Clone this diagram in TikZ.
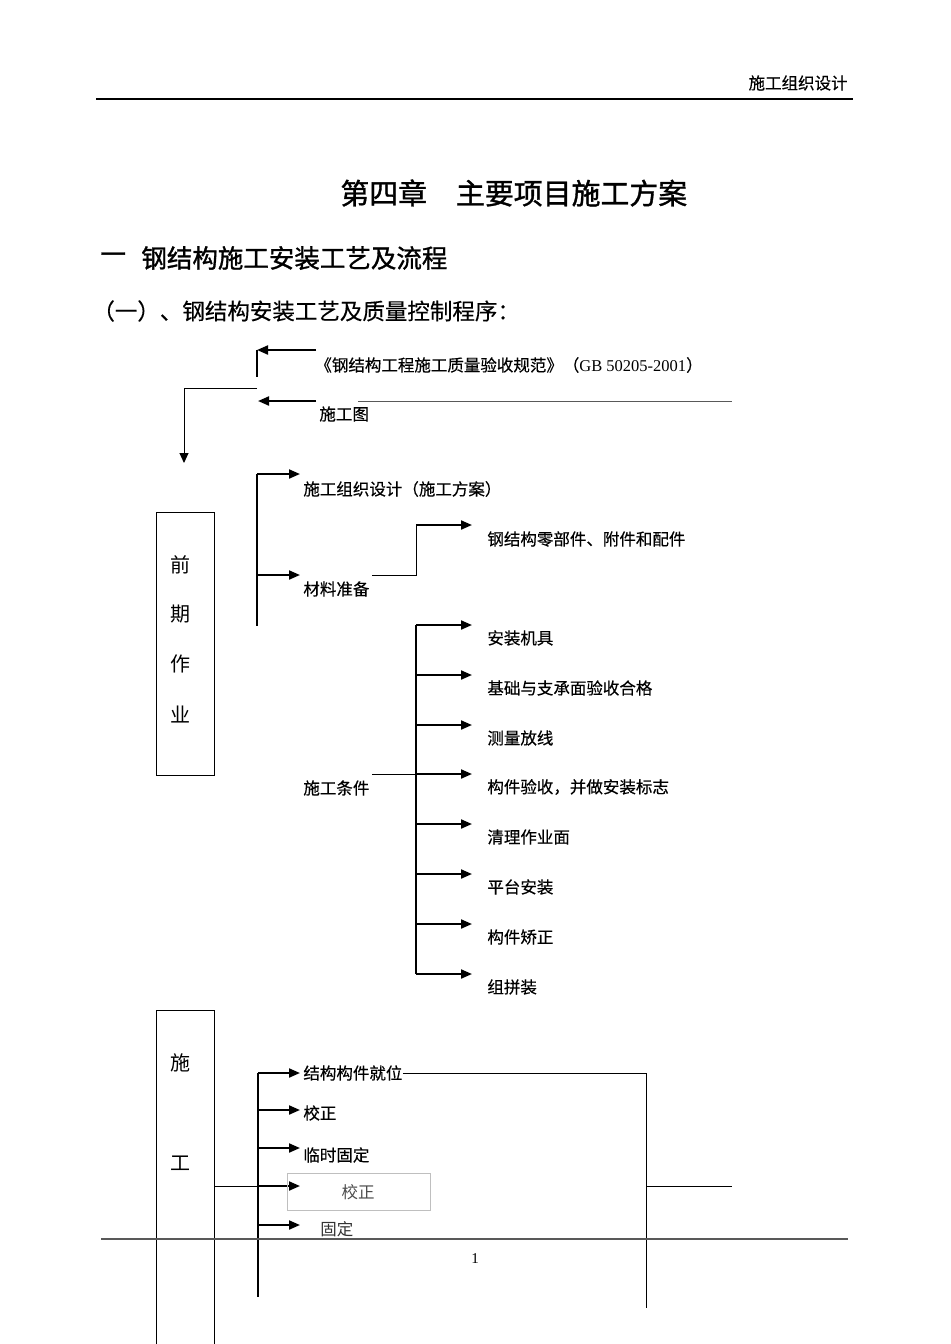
\documentclass[tikz,border=0pt]{standalone}
\usepackage{fontspec}
\setmainfont{Noto Sans CJK SC}
\newfontfamily\cjkbody{Noto Sans CJK SC}[FakeBold=0.35]
\newfontfamily\cjkhead{Noto Sans CJK SC}[FakeBold=1.2]
\newfontfamily\lser{Liberation Serif}
\usetikzlibrary{arrows.meta}
\newcommand\fsb{\cjkbody\fontsize{8.25pt}{10pt}\selectfont}
\begin{document}
\begin{tikzpicture}[x=0.5pt,y=-0.5pt,
  lbl/.style={anchor=west,inner sep=0pt,font=\fsb},
  arr/.style={-{Triangle[length=5.5pt,width=4.5pt]},line width=1pt},
  thin/.style={line width=0.5pt},
  trunk/.style={line width=1pt},
  vbox/.style={draw,line width=0.5pt,inner sep=0pt,anchor=north west},
  boxch/.style={inner sep=0pt,font=\fontsize{10pt}{12pt}\selectfont}]
\useasboundingbox (0,0) rectangle (950,1344);
\fill[white] (0,0) rectangle (950,1344);
% header
\node[lbl,anchor=east] (hdr) at (848,83) {施工组织设计};
\draw[line width=1pt] (96,99) -- (853,99);
\node[inner sep=0pt,anchor=west,font=\cjkhead\fontsize{14.45pt}{16pt}\selectfont] (title) at (340,193) {第四章　主要项目施工方案};
\node[inner sep=0pt,anchor=west,font=\cjkhead\fontsize{12.75pt}{15pt}\selectfont] (h1a) at (100,258) {一};
\node[inner sep=0pt,anchor=west,font=\cjkhead\fontsize{12.75pt}{15pt}\selectfont] (h1) at (141,258) {钢结构施工安装工艺及流程};
\node[inner sep=0pt,anchor=west,font=\cjkbody\fontsize{11.25pt}{13pt}\selectfont] (h2) at (92,311) {（一）、钢结构安装工艺及质量控制程序：};
% top inputs
\node[lbl] (gb) at (315,365) {《钢结构工程施工质量验收规范》（{\lser GB 50205-2001}）};
\node[lbl] (sgt) at (319,414) {施工图};
\coordinate (a1s) at (316,350);
\coordinate (a1e) at (257,350);
\coordinate (v1b) at (257,377);
\coordinate (a2s) at (316,401);
\coordinate (a2e) at (258,401);
\draw[arr] (a1s) -- (a1e);
\draw[trunk] (a1e) -- (v1b);
\draw[arr] (a2s) -- (a2e);
\draw[thin,gray!70!black] (358,401) -- (732,401);
\coordinate (d1) at (257,388);
\coordinate (d2) at (184,388);
\coordinate (d3) at (184,463);
\draw[thin,-{Triangle[length=5pt,width=4.5pt]}] (d1) -- (d2) -- (d3);
% pre-work box
\node[vbox,minimum width=29pt,minimum height=131.5pt] (qq) at (156,512) {};
\node[boxch] (q1) at (180,565) {前};
\node[boxch] (q2) at (180,614) {期};
\node[boxch] (q3) at (180,664) {作};
\node[boxch] (q4) at (180,714) {业};
% pre-work trunk
\coordinate (t1a) at (257,474);
\coordinate (t1b) at (257,626);
\draw[trunk] (t1a) -- (t1b);
\draw[arr] (t1a) -- (300,474);
\draw[arr] (257,575) -- (300,575);
\node[lbl] (szs) at (303,489) {施工组织设计（施工方案）};
\node[lbl] (clzb) at (303,589) {材料准备};
\node[lbl] (gjg) at (487,539) {钢结构零部件、附件和配件};
\draw[thin] (372,575) -- (416,575) -- (416,525);
\draw[arr] (416,525) -- (472,525);
% construction conditions
\node[lbl] (sgtj) at (303,788) {施工条件};
\draw[thin] (372,774) -- (416,774);
\draw[line width=0.75pt] (416,625) -- (416,974);
\foreach \y/\t [count=\i] in {625/安装机具,675/基础与支承面验收合格,725/测量放线,774/构件验收，并做安装标志,824/清理作业面,874/平台安装,924/构件矫正,974/组拼装}{
  \draw[arr] (416,\y) -- (472,\y);
  \node[lbl] (c\i) at (487,\y+13) {\t};
}
% construction box
\draw[line width=0.5pt] (156,1400) -- (156,1010) -- (214,1010) -- (214,1400);
\node[boxch] (s1) at (180,1063) {施};
\node[boxch] (s2) at (180,1163) {工};
\coordinate (t2a) at (258,1073);
\coordinate (t2b) at (258,1297);
\draw[trunk] (t2a) -- (t2b);
\draw[thin] (214,1186) -- (258,1186);
\draw[arr] (t2a) -- (300,1073);
\draw[arr] (258,1110) -- (300,1110);
\draw[arr] (258,1148) -- (300,1148);
\draw[arr] (258,1186) -- (300,1186);
\draw[arr] (258,1225) -- (300,1225);
\node[lbl] (b1) at (303,1073) {结构构件就位};
\node[lbl] (b2) at (303,1113) {校正};
\node[lbl] (b3) at (303,1155) {临时固定};
\draw[line width=0.5pt,gray!50] (287,1173) rectangle (430,1210);
\node[boxch,font=\fontsize{8.25pt}{10pt}\selectfont,text=black!70] (b4) at (358,1192) {校正};
\node[lbl,font=\fontsize{8.25pt}{10pt}\selectfont,text=black!80] (b5) at (320,1229) {固定};
\draw[thin] (b1.east) -- (646,1073) -- (646,1308);
\draw[thin] (646,1186) -- (732,1186);
% footer
\draw[line width=0.75pt,black!65] (101,1239) -- (848,1239);
\node[inner sep=0pt,font=\lser\fontsize{7.5pt}{9pt}\selectfont] (pg) at (475,1259) {1};
\end{tikzpicture}
\end{document}
